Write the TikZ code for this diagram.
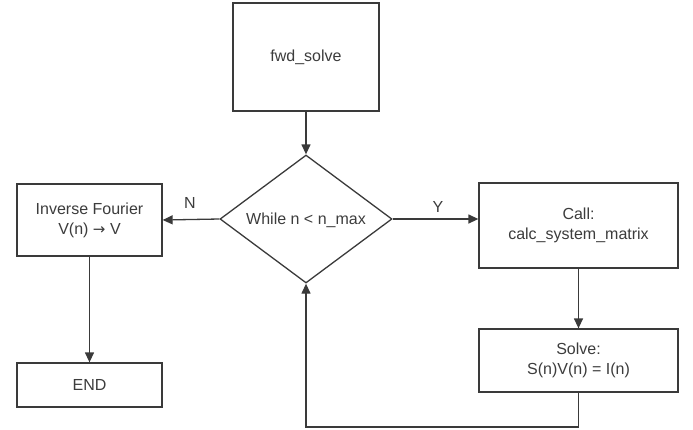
\documentclass[tikz,border=0pt]{standalone}
\usepackage{fontspec}
\setmainfont{Liberation Sans}
\newfontfamily\arrfont{DejaVu Sans}
\usetikzlibrary{arrows.meta,shapes.geometric}
\definecolor{ln}{HTML}{3A3A3A}
\definecolor{tx}{HTML}{3C3C3C}
\begin{document}
\begin{tikzpicture}[x=1pt,y=-1pt,
  box/.style={draw=ln,line width=1.3pt,fill=white,text=tx,align=center,inner sep=0pt,
    font=\fontsize{16}{20}\selectfont},
  dec/.style={draw=ln,line width=1.3pt,diamond,aspect=1.35,inner sep=0pt,text=tx,
    minimum width=172pt,minimum height=128pt,font=\fontsize{16}{20}\selectfont},
  arr/.style={draw=ln,line width=1.3pt,-{Triangle[length=10pt,width=9pt]}},
  lbl/.style={text=tx,font=\fontsize{16}{20}\selectfont}]
\useasboundingbox (0,0) rectangle (693,429);
\node[box,minimum width=146pt,minimum height=108pt] (fwd) at (306,57) {fwd\_solve};
\node[dec] (wh) at (306,219) {};
\node[lbl] (whl) at (306,220) {While n < n\_max};
\node[box,minimum width=145pt,minimum height=72pt] (inv) at (89.5,220) {Inverse Fourier\\V(n) {\arrfont\fontsize{15}{20}\selectfont →} V};
\node[box,minimum width=145pt,minimum height=44pt] (end) at (89.5,385) {END};
\node[box,minimum width=199pt,minimum height=85pt] (call) at (578.5,225.5) {Call:\\calc\_system\_matrix};
\node[box,minimum width=199pt,minimum height=63pt] (solve) at (578.5,360.5) {Solve:\\S(n)V(n) = I(n)};
\coordinate (c1) at (solve.south |- 0,427);
\coordinate (c2) at (wh.south |- 0,427);
\draw[arr] (fwd.south) -- (wh.north);
\draw[arr] (wh.west) -- (inv.east);
\draw[arr] (wh.east) -- (call.west |- wh.east);
\draw[arr] (inv.south) -- (end.north);
\draw[arr] (call.south) -- (solve.north);
\draw[arr] (solve.south) -- (c1) -- (c2) -- (wh.south);
\node[lbl] (nl) at (190,203) {N};
\node[lbl] (yl) at (438,207) {Y};
\end{tikzpicture}
\end{document}
